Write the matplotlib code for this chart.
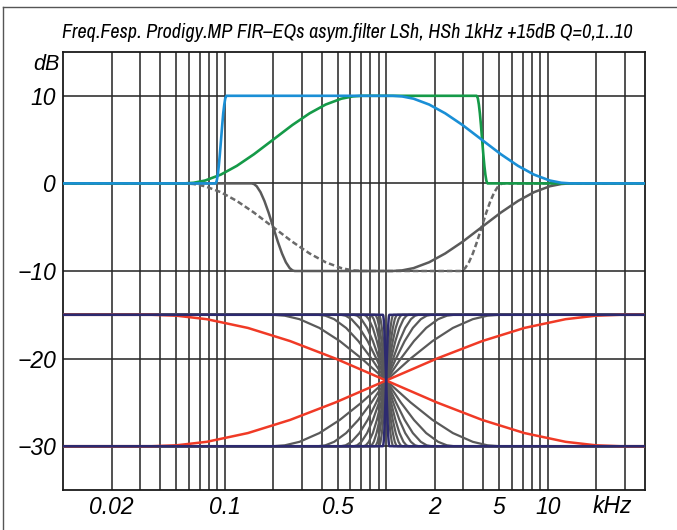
import matplotlib
matplotlib.use("Agg")
import matplotlib.pyplot as plt
from matplotlib import font_manager as fm
from matplotlib.lines import Line2D

# ---------------- data (frequency in kHz, level in dB) ----------------
blue_khz = [0.01, 0.0879, 0.0886, 0.0895, 0.0908, 0.0921, 0.0935, 0.0951, 0.0967,
            0.0981, 0.0996, 0.1009, 0.1020, 0.1028,
            1.099, 1.254, 1.478, 1.847, 2.320, 2.967, 3.899, 5.127, 6.554, 8.232,
            10.29, 12.13, 13.84, 40]
green_khz = [0.01, 0.0564, 0.0643, 0.0758, 0.0947, 0.119, 0.152, 0.200, 0.263,
             0.336, 0.422, 0.528, 0.622, 0.710,
             3.631, 3.660, 3.698, 3.749, 3.803, 3.861, 3.926, 3.993, 4.054, 4.113,
             4.169, 4.213, 4.246, 40]
boost_db = [0, 0, 0.07, 0.33, 1, 2, 3.33, 5, 6.67, 8, 9, 9.67, 9.93, 10,
            10, 9.93, 9.67, 9, 8, 6.67, 5, 3.33, 2, 1, 0.33, 0.07, 0, 0]

cut_solid_khz = [0.01, 0.1472, 0.1520, 0.1581, 0.1669, 0.1764, 0.1872, 0.200, 0.2137,
                 0.2267, 0.2395, 0.2529, 0.2632, 0.2716,
                 1.099, 1.254, 1.478, 1.847, 2.320, 2.967, 3.899, 5.127, 6.554, 8.232,
                 10.29, 12.13, 13.84, 40]
cut_dashed_khz = [0.01, 0.0564, 0.0643, 0.0758, 0.0947, 0.119, 0.152, 0.200, 0.263,
                  0.336, 0.422, 0.528, 0.622, 0.710,
                  2.871, 2.963, 3.084, 3.254, 3.440, 3.650, 3.899, 4.167, 4.421, 4.673,
                  4.931, 5.131, 5.297, 40]
cut_db = [0, 0, -0.07, -0.33, -1, -2, -3.33, -5, -6.67, -8, -9, -9.67, -9.93, -10,
          -10, -9.93, -9.67, -9, -8, -6.67, -5, -3.33, -2, -1, -0.33, -0.07, 0, 0]

# shelving pairs around 1 kHz, one frequency list per Q
shelf_hi_db = [-15, -15, -15.1, -15.5, -16.5, -18, -20, -22.5, -25, -27, -28.5,
               -29.5, -29.9, -30, -30]
shelf_lo_db = [-30, -30, -29.9, -29.5, -28.5, -27, -25, -22.5, -20, -18, -16.5,
               -15.5, -15.1, -15, -15]

q_low_khz = [0.01, 0.0355, 0.0502, 0.0775, 0.1395, 0.2544, 0.4862, 1, 2.057, 3.930,
             7.17, 12.90, 19.92, 28.18, 40]
q_mid_khz = [
    [0.01, 0.1995, 0.2359, 0.2910, 0.3864, 0.5165, 0.7062, 1, 1.416, 1.936, 2.588,
     3.436, 4.239, 5.012, 40],
    [0.01, 0.3802, 0.4205, 0.4768, 0.5653, 0.6729, 0.8115, 1, 1.232, 1.486, 1.769,
     2.097, 2.378, 2.630, 40],
    [0.01, 0.5248, 0.5612, 0.6101, 0.6835, 0.7680, 0.8696, 1, 1.150, 1.302, 1.463,
     1.639, 1.782, 1.905, 40],
    [0.01, 0.6310, 0.6618, 0.7027, 0.7622, 0.8278, 0.9050, 1, 1.105, 1.208, 1.312,
     1.423, 1.511, 1.585, 40],
    [0.01, 0.7244, 0.7491, 0.7813, 0.8271, 0.8764, 0.9328, 1, 1.072, 1.141, 1.209,
     1.280, 1.335, 1.380, 40],
    [0.01, 0.7943, 0.8137, 0.8382, 0.8726, 0.9099, 0.9515, 1, 1.051, 1.099, 1.146,
     1.193, 1.229, 1.259, 40],
    [0.01, 0.8511, 0.8658, 0.8842, 0.9091, 0.9363, 0.9662, 1, 1.035, 1.068, 1.100,
     1.131, 1.155, 1.175, 40],
    [0.01, 0.9016, 0.9116, 0.9234, 0.9407, 0.9588, 0.9775, 1, 1.023, 1.043, 1.063,
     1.083, 1.097, 1.109, 40],
]
q_high_khz = [0.01, 0.9550, 0.9596, 0.9653, 0.9732, 0.9813, 0.9901, 1, 1.010, 1.019,
              1.028, 1.036, 1.042, 1.047, 40]

x_ticks = [0.02, 0.1, 0.5, 2, 5, 10]
x_tick_labels = ["0.02", "0.1", "0.5", "2", "5", "10"]
y_ticks = [10, 0, -10, -20, -30]
y_tick_labels = ["10", "0", "\u221210", "\u221220", "\u221230"]
title = "Freq.Fesp. Prodigy.MP FIR\u2013EQs asym.filter LSh, HSh 1kHz +15dB Q=0,1..10"

# ---------------- fonts ----------------
installed = {f.name for f in fm.fontManager.ttflist}
label_font = "Liberation Sans" if "Liberation Sans" in installed else "DejaVu Sans"


def _weight(entry):
    w = entry.weight
    if isinstance(w, str):
        return {"thin": 100, "light": 300, "normal": 400, "regular": 400, "book": 400,
                "medium": 500}.get(w.lower(), 700)
    return int(w)


def _narrow_rank(entry):
    if entry.style not in ("italic", "oblique") or _weight(entry) > 400 \
            or _weight(entry) < 300:
        return None
    if "Narrow" in entry.name:
        return 0
    if entry.stretch == "condensed":
        return 1
    if entry.stretch == "semi-condensed":
        return 2
    return None


ranked = sorted((r, e.fname) for e in fm.fontManager.ttflist
                if (r := _narrow_rank(e)) is not None)
if ranked:
    title_prop = fm.FontProperties(fname=ranked[0][1])
else:
    title_prop = fm.FontProperties(family=label_font, style="italic")

# ---------------- figure ----------------
fig = plt.figure(figsize=(6.77, 5.30), dpi=100)
ax = fig.add_axes([63 / 677, 1 - 490 / 530, (645 - 63) / 677, (490 - 52) / 530])
ax.set_xscale("log")
ax.set_xlim(0.01, 40)
ax.set_ylim(-35, 15)

grid_color = "#2a2a2a"
for e in (-2, -1, 0, 1):
    for m in range(1, 10):
        f = m * 10.0 ** e
        if 0.01 < f < 40:
            ax.axvline(f, color=grid_color, lw=1.15, zorder=1)
for y in y_ticks:
    ax.axhline(y, color=grid_color, lw=1.15, zorder=1)

# upper group: +10 dB boosts and -10 dB cuts
gray = "#5a5a5a"
ax.plot(cut_dashed_khz, cut_db, color="#6a6a6a", lw=1.8, ls=(0, (2.2, 1.2)), zorder=3)
ax.plot(cut_solid_khz, cut_db, color=gray, lw=1.8, zorder=3)
ax.plot(green_khz, boost_db, color="#159a48", lw=1.9, zorder=4)
ax.plot(blue_khz, boost_db, color="#1a8fd6", lw=1.9, zorder=5)

# lower group: shelf pairs between -15 and -30 dB
for f in q_mid_khz:
    ax.plot(f, shelf_hi_db, color=gray, lw=1.6, zorder=3)
    ax.plot(f, shelf_lo_db, color=gray, lw=1.6, zorder=3)
ax.plot(q_low_khz, shelf_hi_db, color="#f03a26", lw=1.8, zorder=4)
ax.plot(q_low_khz, shelf_lo_db, color="#f03a26", lw=1.8, zorder=4)
ax.plot(q_high_khz, shelf_hi_db, color="#2d2a70", lw=1.8, zorder=5)
ax.plot(q_high_khz, shelf_lo_db, color="#2d2a70", lw=1.8, zorder=5)

# axes styling
for s in ax.spines.values():
    s.set_color("#1a1a1a")
    s.set_linewidth(1.3)
ax.minorticks_off()
ax.set_xticks(x_ticks)
ax.set_xticklabels(x_tick_labels)
ax.set_yticks(y_ticks)
ax.set_yticklabels(y_tick_labels)
ax.tick_params(axis="both", length=0, labelsize=16.5)
ax.tick_params(axis="x", pad=4)
ax.tick_params(axis="y", pad=5)
for lab in ax.get_xticklabels() + ax.get_yticklabels():
    lab.set_fontstyle("italic")
    lab.set_fontfamily(label_font)

ax.text(25, -35.6, "kHz", ha="center", va="top", fontsize=16.5, style="italic",
        family=label_font, clip_on=False)
ax.text(-0.006, 13.6, "dB", ha="right", va="center", fontsize=15.5, style="italic",
        family=label_font, transform=ax.get_yaxis_transform())

title_text = fig.text(347 / 677, 1 - 33 / 530, title, ha="center", va="center",
                      fontproperties=title_prop)
title_text.set_fontsize(13)
fig.canvas.draw()
width_px = title_text.get_window_extent().width
title_text.set_fontsize(13 * 570 / width_px)

# outer frame edges
fig.add_artist(Line2D([0.004, 0.004], [0, 0.987], transform=fig.transFigure,
                      color="#555555", lw=1.0))
fig.add_artist(Line2D([0.004, 1.0], [0.987, 0.987], transform=fig.transFigure,
                      color="#555555", lw=1.0))

fig.savefig("out.png", dpi=100)
